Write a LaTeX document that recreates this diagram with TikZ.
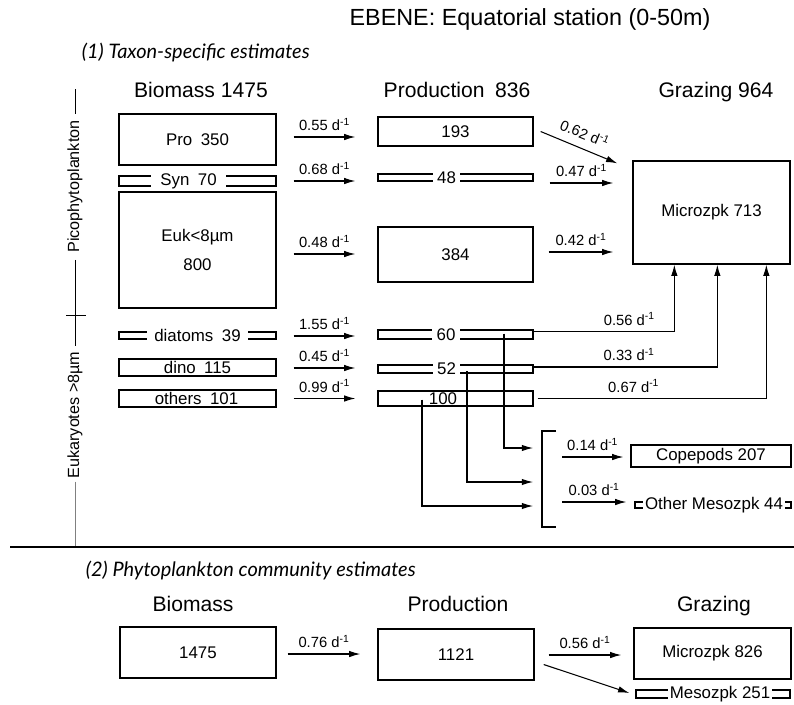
\documentclass[tikz,border=0pt]{standalone}
\usepackage{fontspec}
\setmainfont{Liberation Sans}
\newfontfamily\headfont{Lato}
\usetikzlibrary{arrows.meta,calc,positioning}
\newcommand{\rate}[1]{#1 d\textsuperscript{-1}}
\tikzset{
  bx/.style={draw, line width=0.95pt, inner sep=0pt, font=\fontsize{12}{14}\selectfont},
  sz/.style 2 args={minimum width=#1*0.025cm, minimum height=#2*0.025cm},
  gapped/.style={fill=white, inner ysep=0.5pt, inner xsep=#1, font=\fontsize{12}{14}\selectfont},
  gapped/.default=3pt,
  flow/.style={-{Latex[length=8pt,width=4.6pt]}, line width=0.75pt},
  rlab/.style={above=4pt, inner sep=0pt, font=\fontsize{10.5}{12}\selectfont},
  colhead/.style={anchor=base, font=\fontsize{15}{17}\selectfont},
  sechead/.style={anchor=base west, font=\headfont\itshape\fontsize{14.2}{16}\selectfont},
  axlab/.style={rotate=90, inner sep=0pt, font=\fontsize{11.5}{13}\selectfont}
}
\begin{document}
\begin{tikzpicture}[x=0.025cm, y=-0.025cm]
\useasboundingbox (0,0) rectangle (794,704);
% headings
\node[anchor=base, font=\fontsize{16.6}{19}\selectfont] (title) at (530,25) {EBENE: Equatorial station (0-50m)};
\node[sechead] (sec1) at (77,58) {(1) Taxon-specific estimates};
\node[colhead] (hbio) at (201,97) {Biomass 1475};
\node[colhead] (hprod) at (457,97) {Production\enspace 836};
\node[colhead] (hgraz) at (716,97) {Grazing 964};
% size classes on the left
\node[axlab] (pico) at (75,186.5) {Picophytoplankton};
\node[axlab] (euka) at (75,415) {Eukaryotes >8µm};
\draw[line width=0.7pt] ($(pico.east)+(0,-31)$) -- ($(pico.east)+(0,-6)$);
\draw[line width=0.7pt] ($(pico.west)+(0,7)$) -- ($(euka.east)+(0,-5)$);
\draw[line width=0.7pt] (66,315) -- (86,315);
\draw[gray, line width=0.6pt] ($(euka.west)+(0,3)$) -- (75,547);
\draw[line width=0.8pt] (10,547) -- (794,547);
% biomass
\node[bx, sz={157}{51}] (pro) at (197.5,139.5) {Pro\enspace 350};
\node[bx, sz={157}{10}] (syn) at (197.5,181) {};
\node[gapped=7pt] (syn-t) at (188.5,181) {Syn\enspace 70};
\node[bx, sz={157}{116}, align=center] (euk) at (197.5,250) {Euk<8µm\\[6pt]800};
\node[bx, sz={157}{7}] (dia) at (197.5,335.5) {};
\node[gapped=5pt] (dia-t) at (197.5,335.5) {diatoms\enspace 39};
\node[bx, sz={157}{17}] (dino) at (197.5,367.5) {dino\enspace 115};
\node[bx, sz={157}{17}] (oth) at (197.5,398.5) {};
\node[gapped=4pt] (oth-t) at (196.5,398.5) {others\enspace 101};
% production
\node[bx, sz={155}{29}] (p193) at (455.5,131.5) {193};
\node[bx, sz={155}{7}] (p48) at (455.5,177.5) {};
\node[gapped=3pt] (p48-t) at (446.5,177.5) {48};
\node[bx, sz={155}{55}] (p384) at (455.5,254.5) {384};
\node[bx, sz={155}{9}] (p60) at (455.5,334.5) {};
\node[gapped=3pt] (p60-t) at (446,334.5) {60};
\node[bx, sz={155}{8}] (p52) at (455.5,369) {};
\node[gapped=3pt] (p52-t) at (446.5,369) {52};
\node[bx, sz={155}{15}] (p100) at (455.5,398.5) {};
\node[inner sep=0pt, font=\fontsize{12}{14}\selectfont] (p100-t) at (443,398.5) {100};
% grazing
\node[bx, sz={157}{103}] (micro) at (711.5,212.5) {Microzpk 713};
\node[bx, sz={160}{22}] (cope) at (711,456) {Copepods 207};
\node[bx, sz={156}{6}] (omeso) at (713,505) {};
\node[gapped=1.5pt] (omeso-t) at (714,505) {Other Mesozpk 44};
% biomass -> production
\draw[flow] ($(pro.east)+(17,-2.5)$) -- node[rlab] {\rate{0.55}} ($(pro.east -| p193.west)+(-22,-2.5)$);
\draw[flow] ($(syn.east)+(17,0)$) -- node[rlab] {\rate{0.68}} ($(syn.east -| p48.west)+(-22,0)$);
\draw[flow] ($(euk.east)+(17,4)$) -- node[rlab] {\rate{0.48}} ($(euk.east -| p384.west)+(-22,4)$);
\draw[flow] ($(dia.east)+(17,0.5)$) -- node[rlab] {\rate{1.55}} ($(dia.east -| p60.west)+(-22,0.5)$);
\draw[flow] ($(dino.east)+(17,0.5)$) -- node[rlab] {\rate{0.45}} ($(dino.east -| p52.west)+(-22,0.5)$);
\draw[flow] ($(oth.east)+(17,0)$) -- node[rlab] {\rate{0.99}} ($(oth.east -| p100.west)+(-22,0)$);
% production -> microzooplankton
\draw[flow] ($(p193.east)+(7,0)$) -- node[sloped, anchor=south, inner sep=0pt, yshift=6pt, font=\fontsize{10.5}{12}\selectfont] {\rate{0.62}} ($(micro.north west)+(-15,3)$);
\draw[flow] ($(p48.east)+(16,5.5)$) -- node[rlab] {\rate{0.47}} ($(p48.east -| micro.west)+(-19,5.5)$);
\draw[flow] ($(p384.east)+(15,-2.5)$) -- node[rlab] {\rate{0.42}} ($(p384.east -| micro.west)+(-19,-2.5)$);
\draw[flow] ($(p60.east)+(0,-3)$) -| node[rlab, pos=0.34] {\rate{0.56}} ($(micro.south west)+(42,0)$);
\draw[flow] ($(p52.east)+(0,-2)$) -| node[rlab, pos=0.26] {\rate{0.33}} ($(micro.south west)+(85,0)$);
\draw[flow] ($(p100.east)+(4,0)$) -| node[rlab, pos=0.21] {\rate{0.67}} ($(micro.south west)+(134,0)$);
% production -> mesozooplankton
\coordinate (brtop) at (542,431);
\coordinate (brbot) at (542,527);
\draw[line width=0.8pt] ($(brtop)+(14,0)$) -- (brtop) -- (brbot) -- ($(brbot)+(14,0)$);
\draw[flow] ($(p60.center)+(48.5,-1)$) |- ($(brtop)+(-9,17)$);
\draw[flow] ($(p52.center)+(11.5,2)$) |- ($(brtop)+(-9,51)$);
\draw[flow] ($(p100.center)+(-33.5,1)$) |- ($(brtop)+(-9,75)$);
\draw[flow] ($(cope.west -| brtop)+(20,1)$) -- node[rlab] {\rate{0.14}} ($(cope.west)+(-7,1)$);
\draw[flow] ($(omeso.west -| brtop)+(20,-3)$) -- node[rlab] {\rate{0.03}} ($(omeso.west)+(-8,-3)$);
% community estimates
\node[sechead] (sec2) at (81,576) {(2) Phytoplankton community estimates};
\node[colhead] (hbio2) at (193,611) {Biomass};
\node[colhead] (hprod2) at (458,611) {Production};
\node[colhead] (hgraz2) at (714,611) {Grazing};
\node[bx, sz={156}{51}] (bio) at (198,652.5) {1475};
\node[bx, sz={156}{51}] (prod) at (456,654.5) {1121};
\node[bx, sz={157}{51}] (mic2) at (712.5,653.5) {Microzpk 826};
\node[bx, sz={154}{8}] (meso) at (713,694) {};
\node[gapped=1.5pt] (meso-t) at (720,694) {Mesozpk 251};
\draw[flow] ($(bio.east)+(11,1.5)$) -- node[rlab] {\rate{0.76}} ($(bio.east -| prod.west)+(-17,1.5)$);
\draw[flow] ($(prod.east)+(14,0.5)$) -- node[rlab] {\rate{0.56}} ($(prod.east -| mic2.west)+(-12,0.5)$);
\draw[flow] ($(prod.east)+(9,10)$) -- ($(meso.west)+(-6,-1)$);
\end{tikzpicture}
\end{document}
